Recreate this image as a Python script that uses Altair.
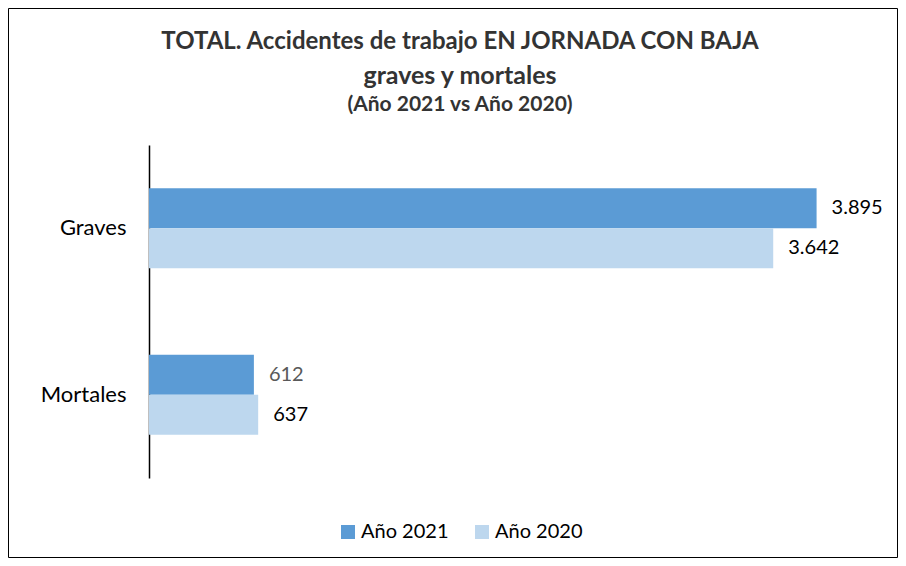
import altair as alt
import pandas as pd

categories = ["Graves", "Mortales"]
years = ["Año 2021", "Año 2020"]
values_2021 = [3895, 612]
values_2020 = [3642, 637]
title_lines = ["TOTAL. Accidentes de trabajo EN JORNADA CON BAJA", "graves y mortales", "(Año 2021 vs Año 2020)"]

rows = []
for i, c in enumerate(categories):
    rows.append({"cat": c, "year": years[0], "value": values_2021[i]})
    rows.append({"cat": c, "year": years[1], "value": values_2020[i]})
df = pd.DataFrame(rows)
df["label"] = df["value"].map(lambda v: f"{v:,}".replace(",", "."))

FONT = "Lato"
W, H = 737, 333
PL, PT, PR, PB = 141, 137, 12, 80

base = alt.Chart(df).encode(
    y=alt.Y("cat:N", sort=categories,
            scale=alt.Scale(paddingInner=0.52, paddingOuter=0.26),
            axis=alt.Axis(title=None, ticks=False, labelFontSize=22, labelFont=FONT,
                          labelColor="#000000", labelPadding=23, domainColor="#000000",
                          domainWidth=1.5, grid=False)),
    yOffset=alt.YOffset("year:N", sort=years),
)

bars = base.mark_bar().encode(
    x=alt.X("value:Q", scale=alt.Scale(domain=[0, 4300], nice=False), axis=None),
    color=alt.Color("year:N", sort=years,
                    scale=alt.Scale(domain=years, range=["#5B9BD5", "#BDD7EE"]),
                    legend=alt.Legend(title=None, orient="none", direction="horizontal",
                                      legendX=189, legendY=377, symbolType="square",
                                      symbolSize=196, symbolStrokeWidth=0,
                                      labelFontSize=20, labelFont=FONT, labelColor="#000000",
                                      columnPadding=23, labelOffset=3)),
)

labels = base.mark_text(align="left", baseline="middle", dx=15, fontSize=20, font=FONT).encode(
    x=alt.X("value:Q"),
    text="label:N",
    color=alt.condition("datum.cat == 'Mortales' && datum.year == 'Año 2021'",
                        alt.value("#595959"), alt.value("#000000")),
)

border = alt.Chart(pd.DataFrame({"a": [0]})).mark_rect(fill=None, stroke="#000000", strokeWidth=1).encode(
    x=alt.value(-PL + 0.5), x2=alt.value(W + PR - 0.5),
    y=alt.value(-PT + 0.5), y2=alt.value(H + PB - 0.5),
)

tdf = pd.DataFrame({"t": title_lines})
title_specs = [(0, 24, -96), (1, 25, -61), (2, 21, -34)]
titles = []
for idx, size, ypos in title_specs:
    titles.append(
        alt.Chart(tdf.iloc[[idx]]).mark_text(font=FONT, fontWeight="bold", fontSize=size, color="#333333",
                                             align="center", baseline="alphabetic").encode(
            text="t:N", x=alt.value(311), y=alt.value(ypos))
    )

chart = alt.layer(border, bars, labels, *titles).properties(
    width=W, height=H,
    padding={"left": PL, "top": PT, "right": PR, "bottom": PB},
    autosize=alt.AutoSizeParams(type="none"),
    background="white",
).configure_view(stroke=None, strokeWidth=0)

chart.save("out.html", embed_options={"renderer": "svg", "actions": False})
